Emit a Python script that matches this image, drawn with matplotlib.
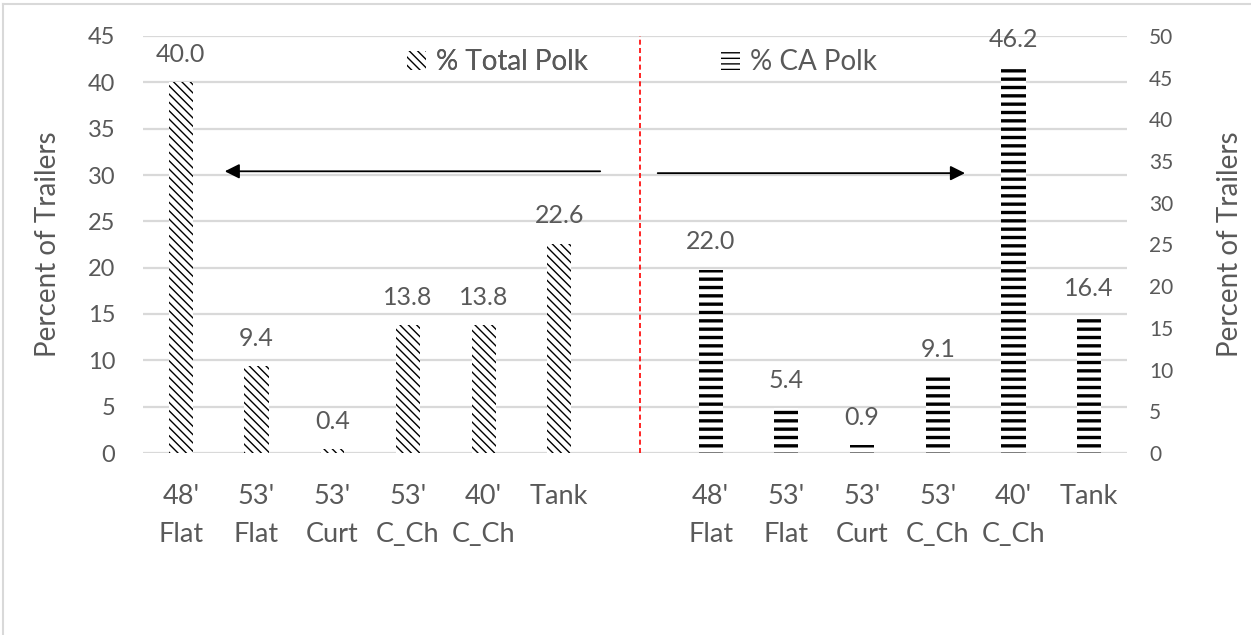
import matplotlib
matplotlib.use("Agg")
import matplotlib.pyplot as plt
from matplotlib.lines import Line2D
from matplotlib.patches import Patch

# Trailer type shares, total Polk (left axis) and CA Polk (right axis)
trailer_types = ["48'\nFlat", "53'\nFlat", "53'\nCurt", "53'\nC_Ch", "40'\nC_Ch", "Tank"]
pct_total_polk = [40.0, 9.4, 0.4, 13.8, 13.8, 22.6]
pct_ca_polk = [22.0, 5.4, 0.9, 9.1, 46.2, 16.4]

left_ticks = list(range(0, 46, 5))
right_ticks = list(range(0, 51, 5))

GREY = "#595959"
FONT = "Lato"
plt.rcParams["font.family"] = [FONT, "DejaVu Sans"]

DIAG = "\\\\\\\\"
HORIZ = "--"
DIAG_LW = 1.0
HORIZ_LW = 2.4

fig = plt.figure(figsize=(12.51, 6.35), dpi=100)
ax = fig.add_axes([143 / 1251, 182 / 635, 984 / 1251, 417 / 635])
ax2 = ax.twinx()

n = len(trailer_types)
x_left = list(range(n))
x_right = [i + n + 1 for i in range(n)]
bar_w = 0.32

with plt.rc_context({"hatch.linewidth": DIAG_LW}):
    b1 = ax.bar(x_left, pct_total_polk, width=bar_w, color="white",
                edgecolor="black", linewidth=0, hatch=DIAG)
with plt.rc_context({"hatch.linewidth": HORIZ_LW}):
    b2 = ax2.bar(x_right, pct_ca_polk, width=bar_w, color="white",
                 edgecolor="black", linewidth=0, hatch=HORIZ)
for bars, lw in ((b1, DIAG_LW), (b2, HORIZ_LW)):
    for p in bars:
        if hasattr(p, "set_hatch_linewidth"):
            p.set_hatch_linewidth(lw)

# value labels above each bar
for xi, v in zip(x_left, pct_total_polk):
    ax.annotate(f"{v:.1f}", (xi, v), xytext=(0, 20), textcoords="offset points",
                ha="center", va="center", fontsize=18, color=GREY)
for xi, v in zip(x_right, pct_ca_polk):
    ax2.annotate(f"{v:.1f}", (xi, v), xytext=(0, 20), textcoords="offset points",
                 ha="center", va="center", fontsize=18, color=GREY,
                 annotation_clip=False)

ax.set_xlim(-0.5, 2 * n + 0.5)
ax.set_ylim(0, 45)
ax2.set_ylim(0, 50)
ax.set_yticks(left_ticks)
ax2.set_yticks(right_ticks)
ax.set_xticks(x_left + x_right)
ax.set_xticklabels(trailer_types + trailer_types, linespacing=1.68)

ax.tick_params(axis="y", length=0, pad=20, labelsize=17, labelcolor=GREY)
ax2.tick_params(axis="y", length=0, pad=16, labelsize=15, labelcolor=GREY)
ax.tick_params(axis="x", length=0, pad=22, labelsize=19.5, labelcolor=GREY)

ax.grid(axis="y", color="#d9d9d9", linewidth=1.6)
ax.set_axisbelow(True)
for a in (ax, ax2):
    for s in a.spines.values():
        s.set_visible(False)

ax.set_ylabel("Percent of Trailers", fontsize=20, color=GREY, labelpad=19)
ax2.set_ylabel("Percent of Trailers", fontsize=20, color=GREY, labelpad=31)

# divider between the two groups
ax.axvline(6.07, color="red", linestyle=(0, (3, 2)), linewidth=1.2)

# arrows pointing to the axis each group is read against
ax.annotate("", xy=(0.58, 30.4), xytext=(5.54, 30.4),
            arrowprops=dict(arrowstyle="-|>", mutation_scale=22, lw=1.3,
                            color="black", shrinkA=0, shrinkB=0))
ax.annotate("", xy=(10.36, 30.2), xytext=(6.30, 30.2),
            arrowprops=dict(arrowstyle="-|>", mutation_scale=22, lw=1.3,
                            color="black", shrinkA=0, shrinkB=0))

# legends
h1 = Patch(facecolor="white", edgecolor="black", linewidth=0, hatch=DIAG)
h2 = Patch(facecolor="white", edgecolor="black", linewidth=0, hatch="---")
leg_kw = dict(loc="center left", bbox_transform=fig.transFigure, frameon=False,
              fontsize=20, handlelength=0.7, handleheight=0.7, handletextpad=0.35,
              borderpad=0, borderaxespad=0, labelcolor=GREY)
leg1 = ax.legend([h1], ["% Total Polk"], bbox_to_anchor=(407 / 1251, 1 - 62 / 635), **leg_kw)
ax.add_artist(leg1)
ax2.legend([h2], ["% CA Polk"], bbox_to_anchor=(721 / 1251, 1 - 62 / 635), **leg_kw)

# chart frame edges
fig.add_artist(Line2D([3 / 1251, 1], [1 - 4 / 635, 1 - 4 / 635],
                      transform=fig.transFigure, color="#d9d9d9", lw=1.5))
fig.add_artist(Line2D([3 / 1251, 3 / 1251], [0, 1 - 4 / 635],
                      transform=fig.transFigure, color="#d9d9d9", lw=1.5))

fig.savefig("out.png", dpi=100, facecolor="white")
